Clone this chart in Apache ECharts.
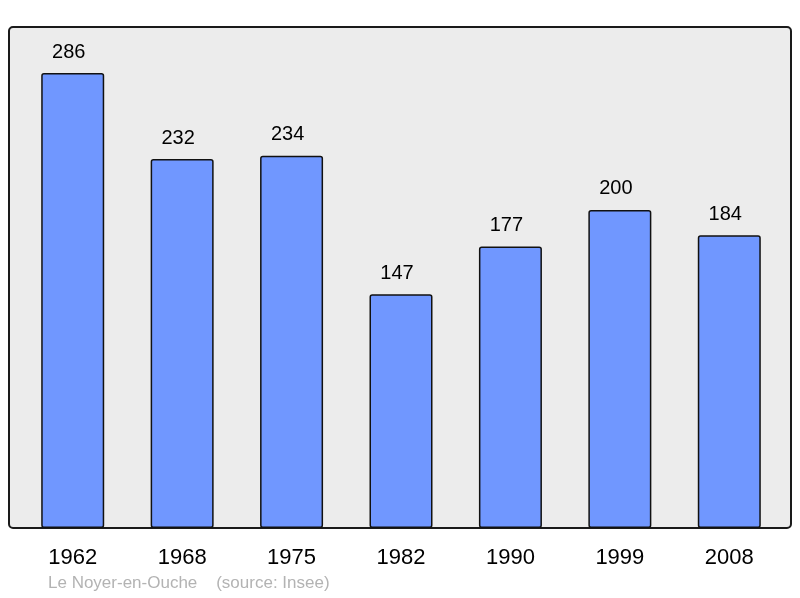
<!DOCTYPE html>
<html>
<head>
<meta charset="utf-8">
<script src="https://cdn.jsdelivr.net/npm/echarts@6/dist/echarts.min.js"></script>
<style>
    html, body { margin: 0; padding: 0; background: #fff; }
    #chart { width: 800px; height: 598px; }
</style>
</head>
<body>
<div id="chart"></div>
<script type="text/javascript">
    // 年份与人口
    var years = ['1962', '1968', '1975', '1982', '1990', '1999', '2008'];
    var population = [286, 232, 234, 147, 177, 200, 184];
    var placeName = 'Le Noyer-en-Ouche';
    var sourceText = '(source: Insee)';

    var myChart = echarts.init(document.getElementById('chart'));

    var option = {
        animation: false,
        textStyle: { fontFamily: 'Liberation Sans, Arial, sans-serif' },
        graphic: [
            {
                type: 'rect',
                z: -1,
                shape: { x: 9, y: 27, width: 782, height: 501, r: 4 },
                style: { fill: '#ececec', stroke: '#1a1a1a', lineWidth: 2 }
            },
            {
                type: 'text',
                left: 48,
                top: 575,
                style: {
                    text: placeName + '    ' + sourceText,
                    fill: '#b3b3b3',
                    font: '17px Liberation Sans, Arial, sans-serif'
                }
            }
        ],
        grid: { left: 18, right: 16, top: 27, bottom: 70 },
        xAxis: {
            type: 'category',
            data: years,
            axisLine: { show: false },
            axisTick: { show: false },
            axisLabel: { color: '#000', fontSize: 22, margin: 19 }
        },
        yAxis: {
            type: 'value',
            min: 0,
            max: 315,
            show: false,
            splitLine: { show: false }
        },
        series: [
            {
                type: 'bar',
                data: population,
                barWidth: 63,
                itemStyle: {
                    color: '#7097ff',
                    borderColor: '#111',
                    borderWidth: 1.5,
                    borderRadius: 2
                },
                label: {
                    show: true,
                    position: 'top',
                    distance: 11,
                    offset: [-4, 0],
                    color: '#000',
                    fontSize: 20
                },
                labelLine: { show: false }
            }
        ]
    };

    myChart.setOption(option, true);
</script>
</body>
</html>
